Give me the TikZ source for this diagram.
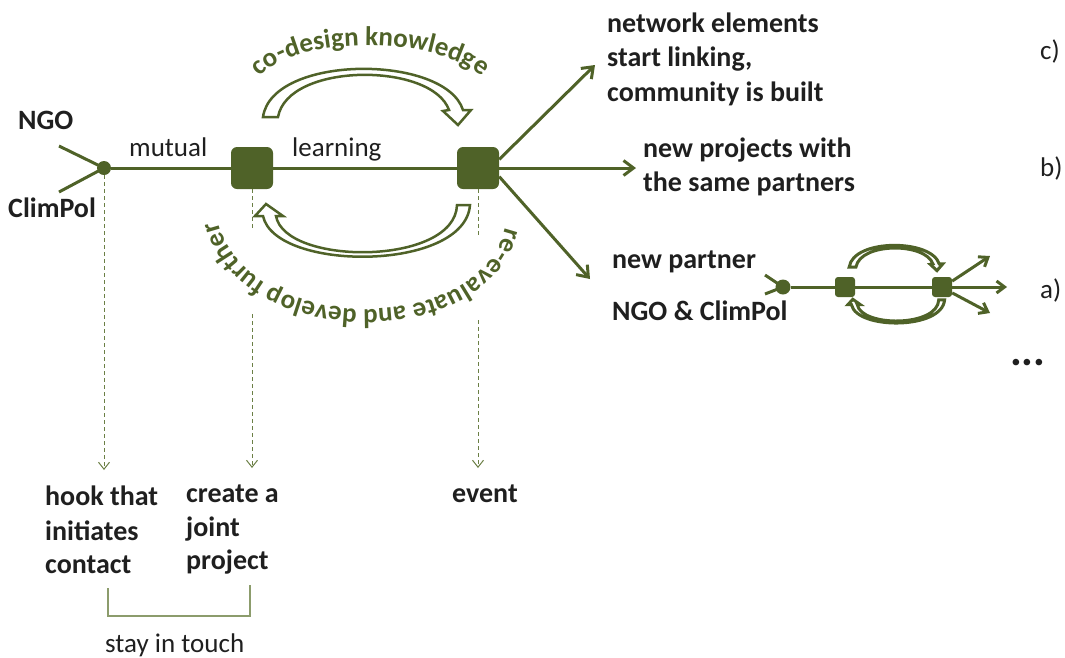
\documentclass[tikz,border=0pt]{standalone}
\usepackage{fontspec}
\setmainfont{Carlito}
\usetikzlibrary{arrows.meta,decorations.text}
\definecolor{olv}{HTML}{4F6228}
\definecolor{olvl}{HTML}{6B7F45}
\definecolor{brk}{HTML}{8C9C6C}
\definecolor{txt}{HTML}{1F1F1F}
\begin{document}
\begin{tikzpicture}[x=1pt,y=-1pt,
  main/.style={draw=olv, line width=3pt},
  arr/.style={main, -{Straight Barb[length=10pt,width=15pt]}},
  sarr/.style={main, -{Straight Barb[length=8pt,width=12pt]}},
  guide/.style={draw=olvl, line width=1pt, dash pattern=on 4pt off 3pt},
  guidearr/.style={guide, -{Straight Barb[length=7pt,width=11pt,line width=1pt]}},
  dotnode/.style={circle, fill=olv, inner sep=0pt, minimum size=14pt},
  sq/.style={rectangle, rounded corners=6pt, fill=olv, inner sep=0pt, minimum size=42pt},
  ssq/.style={rectangle, rounded corners=3pt, fill=olv, inner sep=0pt, minimum size=20pt},
  hollow/.style={draw=olv, line width=2.5pt, fill=white, line join=miter},
  shollow/.style={draw=olv, line width=3pt, fill=white, line join=miter},
  lbl/.style={font=\fontsize{28}{34}\selectfont\bfseries, text=txt, anchor=base west, inner sep=0pt},
  reg/.style={font=\fontsize{27}{33}\selectfont, text=txt, anchor=base west, inner sep=0pt},
  curvetext/.style={decorate, decoration={text along path, text align=center, text color=olv}},
]
\useasboundingbox (0,0) rectangle (1065,657);

% main chain
\node[dotnode] (d1) at (104,168) {};
\node[sq] (s1) at (252,168) {};
\node[sq] (s2) at (478,168) {};
\coordinate (inA) at (59,146);
\coordinate (inB) at (59,192);
\draw[main] (inA) -- (d1.center);
\draw[main] (inB) -- (d1.center);
\draw[main] (d1) -- (s1);
\draw[main] (s1) -- (s2);

\coordinate (tc) at (595,65);
\coordinate (tb) at (636,168);
\coordinate (ta) at (590,279);
\draw[arr] (s2.22) -- (tc);
\draw[arr] (s2.east) -- (tb);
\draw[arr] (s2.-22) -- (ta);

% dashed guides
\coordinate (g1) at (104,470);
\coordinate (g2a) at (252,230);
\coordinate (g2b) at (252,314);
\coordinate (g2) at (252,468);
\coordinate (g3a) at (478,238);
\coordinate (g3b) at (478,320);
\coordinate (g3) at (478,468);
\draw[guidearr] (d1.south) -- (g1);
\draw[guide] (s1.south) -- (g2a);
\draw[guidearr] (g2b) -- (g2);
\draw[guide] (s2.south) -- (g3a);
\draw[guidearr] (g3b) -- (g3);

% hollow curved arrows
\draw[hollow] (263,117) .. controls (272,54) and (445,54) .. (463,110) -- (471,110) -- (458,125) -- (443,111) -- (449,110) .. controls (432,62) and (288,62) .. (278,117) -- cycle;
\draw[hollow] (470,205) .. controls (465,272) and (275,272) .. (263,216) -- (255,216) -- (266,204) -- (283,216) -- (276,216) .. controls (285,266) and (455,266) .. (457,205) -- cycle;

% curved texts
\path[curvetext, decoration={text={|\fontsize{27}{27}\selectfont\bfseries|co-design knowledge}}]
  (255,83) .. controls (285,33) and (445,33) .. (487,82);
\path[curvetext, decoration={text={|\fontsize{27}{27}\selectfont\bfseries|re-evaluate and develop further}}]
  (508,212) .. controls (500,345) and (225,340) .. (216,206);

% small diagram
\node[dotnode, minimum size=15pt] (d2) at (783,287) {};
\node[ssq] (s3) at (845,287) {};
\node[ssq] (s4) at (942,287) {};
\coordinate (inC) at (765,275);
\coordinate (inD) at (765,294);
\draw[main] (inC) -- (d2.center);
\draw[main] (inD) -- (d2.center);
\draw[main] (d2) -- (s3);
\draw[main] (s3) -- (s4);
\coordinate (sc) at (990,256);
\coordinate (sb) at (1007,287);
\coordinate (sa) at (990,313);
\draw[sarr] (s4.30) -- (sc);
\draw[sarr] (s4.east) -- (sb);
\draw[sarr] (s4.-30) -- (sa);
\begin{scope}[shift={(896,267)}, scale=0.45, shift={(-367,-117)}]
\draw[shollow] (263,117) .. controls (272,54) and (445,54) .. (463,110) -- (471,110) -- (458,125) -- (443,111) -- (449,110) .. controls (432,62) and (288,62) .. (278,117) -- cycle;
\end{scope}
\begin{scope}[shift={(896,311)}, scale=0.45, shift={(-362,-230)}]
\draw[shollow] (470,205) .. controls (465,272) and (275,272) .. (263,216) -- (255,216) -- (266,204) -- (283,216) -- (276,216) .. controls (285,266) and (455,266) .. (457,205) -- cycle;
\end{scope}

% bracket
\coordinate (k1) at (108,588);
\coordinate (k2) at (108,616);
\coordinate (k3) at (250,616);
\coordinate (k4) at (250,585);
\draw[draw=brk, line width=1.3pt] (k1) -- (k2) -- (k3) -- (k4);

% labels
\node[lbl] (ngo) at (18,129) {NGO};
\node[lbl] (climpol) at (8,217) {ClimPol};
\node[reg] (mutual) at (129,156) {mutual};
\node[reg] (learning) at (292,156) {learning};

\node[lbl] (lc1) at (607,32) {network elements};
\node[lbl] (lc2) at (607,66.5) {start linking,};
\node[lbl] (lc3) at (607,101) {community is built};
\node[lbl] (lb1) at (643,157) {new projects with};
\node[lbl] (lb2) at (643,191) {the same partners};
\node[lbl] (la1) at (612,268) {new partner};
\node[lbl] (la2) at (612,320) {NGO \& ClimPol};

\node[reg] (cc) at (1040,59) {c)};
\node[reg] (bb) at (1040,176) {b)};
\node[reg] (aa) at (1040,298) {a)};
\node[font=\fontsize{44}{44}\selectfont\bfseries, text=txt, anchor=base west, inner sep=0pt] (dots) at (1010,365) {...};

\node[lbl] (h1) at (45,505) {hook that};
\node[lbl] (h2) at (45,540) {initiates};
\node[lbl] (h3) at (45,573.3) {contact};
\node[lbl] (j1) at (186,502.7) {create a};
\node[lbl] (j2) at (186,536.7) {joint};
\node[lbl] (j3) at (186,569) {project};
\node[lbl] (ev) at (452,502) {event};
\node[reg] (touch) at (105,652) {stay in touch};
\end{tikzpicture}
\end{document}
